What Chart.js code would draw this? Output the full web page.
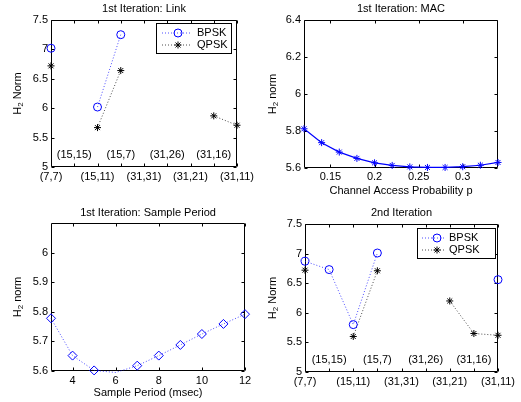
<!DOCTYPE html>
<html>
<head>
<meta charset="utf-8">
<script src="https://cdn.jsdelivr.net/npm/chart.js@4.4.0/dist/chart.umd.min.js"></script>
<style>
  body { margin: 0; background: #fff; }
  #wrap { position: relative; width: 521px; height: 402px; overflow: hidden; background: #fff; }
  canvas { position: absolute; }
</style>
</head>
<body>
<div id="wrap">
  <canvas id="linkChart" width="260" height="200" style="left:0;top:0"></canvas>
  <canvas id="macChart" width="261" height="200" style="left:260px;top:0"></canvas>
  <canvas id="periodChart" width="260" height="202" style="left:0;top:200px"></canvas>
  <canvas id="iterChart" width="261" height="202" style="left:260px;top:200px"></canvas>
</div>
<script>
// ---- data ----
const linkLabels = ['(7,7)', '(15,15)', '(15,11)', '(15,7)', '(31,31)', '(31,26)', '(31,21)', '(31,16)', '(31,11)'];
const linkBpsk = [7.02, null, 6.02, 7.25, null, null, null, null, null];
const linkQpsk = [6.72, null, 5.67, 6.64, null, null, null, 5.87, 5.71];
const iterBpsk = [6.87, 6.73, 5.80, 7.01, null, null, null, null, 6.56];
const iterQpsk = [6.72, null, 5.60, 6.71, null, null, 6.20, 5.65, 5.62];
const linkYTicks = [5, 5.5, 6, 6.5, 7, 7.5];

const macP = [0.12, 0.14, 0.16, 0.18, 0.20, 0.22, 0.24, 0.26, 0.28, 0.30, 0.32, 0.34];
const macNorm = [5.812, 5.737, 5.686, 5.652, 5.628, 5.614, 5.606, 5.603, 5.603, 5.607, 5.615, 5.630];
const macXTicks = [0.15, 0.2, 0.25, 0.3];
const macYTicks = [5.6, 5.8, 6, 6.2, 6.4];

const periodMs = [3, 4, 5, 6, 7, 8, 9, 10, 11, 12];
const periodNorm = [5.778, 5.652, 5.602, 5.595, 5.618, 5.652, 5.688, 5.725, 5.759, 5.792];
const periodXTicks = [4, 6, 8, 10, 12];
const periodYTicks = [5.6, 5.7, 5.8, 5.9, 6];

// ---- look ----
const FONT = '"Liberation Sans", Arial, Helvetica, sans-serif';
Chart.defaults.font.family = FONT;
Chart.defaults.font.size = 11;
Chart.defaults.color = '#000';
const BLUE = '#0000ff';
const fmt = v => String(Math.round(v * 100) / 100);

// MATLAB-like box, inward ticks, titles, labels and legend
const matlabAxes = {
    id: 'matlabAxes',
    beforeDatasetsDraw(chart) {
        const { ctx, chartArea: a, scales: { x, y } } = chart;
        const L = Math.round(a.left) + 0.5, R = Math.round(a.right) - 0.5;
        const T = Math.round(a.top) + 0.5, B = Math.round(a.bottom) - 0.5;
        ctx.save();
        ctx.strokeStyle = '#000';
        ctx.lineWidth = 1;
        ctx.beginPath();
        ctx.rect(L, T, R - L, B - T);
        x.ticks.forEach(t => {
            const px = Math.round(x.getPixelForValue(t.value)) + 0.5;
            ctx.moveTo(px, B); ctx.lineTo(px, B - 3);
            ctx.moveTo(px, T); ctx.lineTo(px, T + 3);
        });
        y.ticks.forEach(t => {
            const py = Math.round(y.getPixelForValue(t.value)) + 0.5;
            ctx.moveTo(L, py); ctx.lineTo(L + 3, py);
            ctx.moveTo(R, py); ctx.lineTo(R - 3, py);
        });
        ctx.stroke();
        ctx.restore();
    },
    afterDatasetsDraw(chart, args, o) {
        const { ctx, chartArea: a, scales: { x, y } } = chart;
        const main = '11px ' + FONT, sub = '8px ' + FONT;
        const cx = (a.left + a.right) / 2;
        ctx.save();
        ctx.fillStyle = '#000';
        ctx.textAlign = 'center';
        ctx.textBaseline = 'middle';
        ctx.font = main;
        ctx.fillText(o.title, cx, o.titleY);
        if (o.xlabel) ctx.fillText(o.xlabel, cx, o.xlabelY);
        if (o.innerY) {
            chart.data.labels.forEach((lab, i) => {
                if (i % 2 === 1) ctx.fillText(lab, x.getPixelForValue(i), y.getPixelForValue(o.innerY));
            });
        }

        // legend
        if (o.legend) {
            const g = o.legend;
            ctx.fillStyle = '#fff';
            ctx.fillRect(g.x, g.y, g.w, g.h);
            ctx.strokeStyle = '#000';
            ctx.lineWidth = 1;
            ctx.strokeRect(g.x + 0.5, g.y + 0.5, g.w, g.h);
            chart.data.datasets.forEach((ds, i) => {
                const ry = g.y + 10 + i * 12;
                ctx.save();
                ctx.setLineDash(ds.borderDash || []);
                ctx.strokeStyle = ds.borderColor;
                ctx.lineWidth = ds.borderWidth;
                ctx.beginPath();
                ctx.moveTo(g.x + g.line[0], ry);
                ctx.lineTo(g.x + g.line[1], ry);
                ctx.stroke();
                ctx.setLineDash([]);
                ctx.strokeStyle = ds.pointBorderColor;
                ctx.fillStyle = 'rgba(0,0,0,0)';
                ctx.lineWidth = ds.pointBorderWidth;
                Chart.helpers.drawPoint(ctx, { pointStyle: ds.pointStyle, radius: ds.pointRadius, borderWidth: ds.pointBorderWidth, rotation: 0 }, g.x + g.mark, ry);
                ctx.restore();
                ctx.fillStyle = '#000';
                ctx.textAlign = 'left';
                ctx.font = main;
                ctx.fillText(ds.label, g.x + g.text, ry);
            });
        }

        // y label: H with subscript 2
        ctx.font = main;
        const w1 = ctx.measureText('H').width, w3 = ctx.measureText(o.ylabel).width;
        ctx.font = sub;
        const w2 = ctx.measureText('2').width;
        ctx.translate(o.ylabelX, (a.top + a.bottom) / 2);
        ctx.rotate(-Math.PI / 2);
        ctx.textAlign = 'left';
        ctx.fillStyle = '#000';
        let sx = -(w1 + w2 + w3) / 2;
        ctx.font = main; ctx.fillText('H', sx, 0); sx += w1;
        ctx.font = sub; ctx.fillText('2', sx, 3); sx += w2;
        ctx.font = main; ctx.fillText(o.ylabel, sx, 0);
        ctx.restore();
    }
};

function yAxis(min, max, ticks, width) {
    return {
        type: 'linear', position: 'left', min, max,
        grid: { display: false, drawTicks: false },
        border: { display: false },
        ticks: { padding: 3, callback: fmt, autoSkip: false },
        afterBuildTicks: s => { s.ticks = ticks.map(v => ({ value: v })); },
        afterFit: s => { s.width = width; s.paddingTop = 0; s.paddingBottom = 0; }
    };
}

function xLinear(min, max, ticks, height, pad) {
    return {
        type: 'linear', position: 'bottom', min, max,
        grid: { display: false, drawTicks: false },
        border: { display: false },
        ticks: { padding: pad, callback: fmt, autoSkip: false, maxRotation: 0 },
        afterBuildTicks: s => { s.ticks = ticks.map(v => ({ value: v })); },
        afterFit: s => { s.height = height; s.paddingLeft = 0; s.paddingRight = 0; }
    };
}

function xCategory(height) {
    return {
        type: 'category', offset: false,
        grid: { display: false, drawTicks: false },
        border: { display: false },
        ticks: {
            padding: 3, autoSkip: false, maxRotation: 0, minRotation: 0,
            callback(v, i) { return i % 2 === 0 ? this.getLabelForValue(v) : ''; }
        },
        afterFit: s => { s.height = height; s.paddingLeft = 0; s.paddingRight = 0; }
    };
}

function bpsk(data) {
    return {
        label: 'BPSK', data, borderColor: 'rgba(0,0,255,0.7)', borderWidth: 1, borderDash: [1, 2],
        pointStyle: 'circle', pointRadius: 4, pointBorderColor: BLUE,
        pointBackgroundColor: 'rgba(0,0,0,0)', pointBorderWidth: 1, spanGaps: false, clip: false
    };
}

function qpsk(data) {
    return {
        label: 'QPSK', data, borderColor: 'rgba(0,0,0,0.7)', borderWidth: 1, borderDash: [1, 2],
        pointStyle: 'star', pointRadius: 3.5, pointBorderColor: '#000',
        pointBackgroundColor: 'rgba(0,0,0,0)', pointBorderWidth: 1, spanGaps: false, clip: false
    };
}

const base = {
    responsive: false,
    animation: false,
    events: [],
    plugins: { legend: { display: false }, tooltip: { enabled: false } }
};

function makeChart(id, data, scales, padding, opts) {
    new Chart(document.getElementById(id), {
        type: 'line',
        data,
        options: {
            ...base,
            layout: { padding },
            scales,
            plugins: { ...base.plugins, matlabAxes: opts }
        },
        plugins: [matlabAxes]
    });
}

// 1st Iteration: Link
makeChart('linkChart',
    { labels: linkLabels, datasets: [bpsk(linkBpsk), qpsk(linkQpsk)] },
    { x: xCategory(33), y: yAxis(5, 7.5, linkYTicks, 51) },
    { top: 20, right: 23, left: 0, bottom: 0 },
    { title: '1st Iteration: Link', titleY: 8.5, ylabel: ' Norm', ylabelX: 18, innerY: 5.2,
      legend: { x: 156, y: 23, w: 75, h: 30, line: [6, 34], mark: 22, text: 41 } });

// 1st Iteration: MAC
makeChart('macChart',
    { datasets: [{
        label: 'MAC', data: macP.map((p, i) => ({ x: p, y: macNorm[i] })),
        borderColor: BLUE, borderWidth: 1.2, pointStyle: 'star', pointRadius: 3.5,
        pointBorderColor: BLUE, pointBorderWidth: 1, clip: false
    }] },
    { x: xLinear(0.12, 0.34, macXTicks, 32, 2), y: yAxis(5.6, 6.4, macYTicks, 44) },
    { top: 20, right: 23, left: 0, bottom: 0 },
    { title: '1st Iteration: MAC', titleY: 8.5, ylabel: ' norm', ylabelX: 13,
      xlabel: 'Channel Access Probability p', xlabelY: 190.5 });

// 1st Iteration: Sample Period
makeChart('periodChart',
    { datasets: [{
        label: 'Sample Period', data: periodMs.map((m, i) => ({ x: m, y: periodNorm[i] })),
        borderColor: 'rgba(0,0,255,0.7)', borderWidth: 1, borderDash: [1, 2],
        pointStyle: 'rectRot', pointBorderColor: BLUE, pointBackgroundColor: 'rgba(0,0,0,0)',
        pointBorderWidth: 1, clip: false,
        pointRadius: c => (c.parsed.y < c.chart.scales.y.min ? 0 : 4.5)
    }] },
    { x: xLinear(3, 12, periodXTicks, 31, 3), y: yAxis(5.6, 6.1, periodYTicks, 51) },
    { top: 23, right: 15, left: 0, bottom: 0 },
    { title: '1st Iteration: Sample Period', titleY: 12.5, ylabel: ' norm', ylabelX: 18,
      xlabel: 'Sample Period (msec)', xlabelY: 192.5 });

// 2nd Iteration
makeChart('iterChart',
    { labels: linkLabels, datasets: [bpsk(iterBpsk), qpsk(iterQpsk)] },
    { x: xCategory(30), y: yAxis(5, 7.5, linkYTicks, 45) },
    { top: 24, right: 23, left: 0, bottom: 0 },
    { title: '2nd Iteration', titleY: 12.5, ylabel: ' Norm', ylabelX: 13, innerY: 5.2,
      legend: { x: 157, y: 28, w: 78, h: 30, line: [5, 29], mark: 20, text: 32 } });
</script>
</body>
</html>
